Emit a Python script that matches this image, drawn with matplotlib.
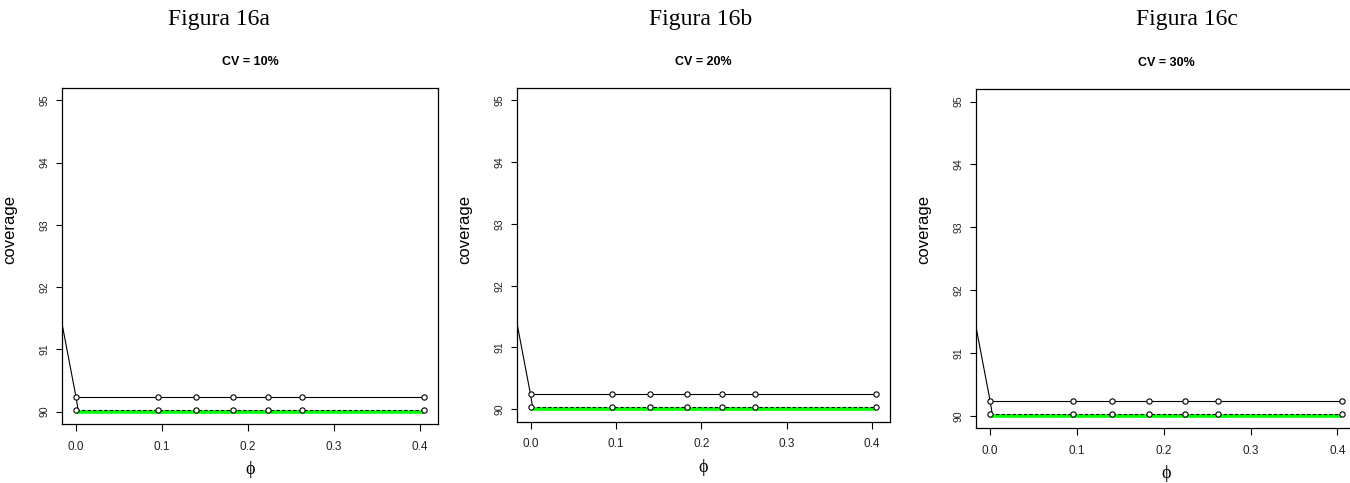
import matplotlib
matplotlib.use("Agg")
import matplotlib.pyplot as plt

# ---- data ----
panel_titles = ["Figura 16a", "Figura 16b", "Figura 16c"]
cv_labels = ["CV = 10%", "CV = 20%", "CV = 30%"]
phi = [0.0, 0.095, 0.140, 0.183, 0.224, 0.263, 0.405]
cov_upper = [90.24, 90.24, 90.24, 90.24, 90.24, 90.24, 90.24]
cov_lower = [90.03, 90.03, 90.03, 90.03, 90.03, 90.03, 90.03]
lead_phi = [-0.05, 0.0, 0.0025]
lead_cov = [93.87, 90.24, 90.03]
nominal_phi = [0.0, 0.405]
nominal_cov = [90.0, 90.0]
xticks = [0.0, 0.1, 0.2, 0.3, 0.4]
xticklabels = ["0.0", "0.1", "0.2", "0.3", "0.4"]
yticks = [90, 91, 92, 93, 94, 95]

W, H = 1350, 483
fig = plt.figure(figsize=(W / 100, H / 100), dpi=100)

# axes boxes in pixels: left, top, right, bottom
boxes = [(62, 88, 438, 424), (516.7, 87.7, 890, 421.7), (976, 89, 1355.8, 428.3)]
title_x = [219, 701, 1187]
phi_label_y = [470, 467, 474]

sans = ["Liberation Sans", "DejaVu Sans"]
serif = ["Liberation Serif", "DejaVu Serif"]

for i, (l, t, r, b) in enumerate(boxes):
    ax = fig.add_axes([l / W, (H - b) / H, (r - l) / W, (b - t) / H])
    ax.plot(nominal_phi, nominal_cov, color="#00ff00", lw=2.6, solid_capstyle="butt", zorder=1)
    ax.plot(phi, cov_lower, color="black", lw=0.8, ls=(0, (3, 2)), marker="o",
            mfc="white", mec="black", ms=3.8, mew=0.8, zorder=3)
    ax.plot(phi, cov_upper, color="black", lw=0.8, marker="o",
            mfc="white", mec="black", ms=3.8, mew=0.8, zorder=3)
    ax.plot(lead_phi, lead_cov, color="black", lw=0.8, zorder=2)
    ax.set_xlim(-0.0162, 0.4212)
    ax.set_ylim(89.8, 95.2)
    ax.set_xticks(xticks)
    ax.set_xticklabels(xticklabels, fontfamily=sans, fontsize=8.5, color="#222222")
    ax.set_yticks(yticks)
    ax.set_yticklabels([str(v) for v in yticks], fontfamily=sans, fontsize=7.5,
                       rotation=90, va="center", color="#222222")
    ax.tick_params(axis="x", direction="out", length=5, width=0.8, pad=7)
    ax.tick_params(axis="y", direction="out", length=4, width=0.8, pad=5)
    for s in ax.spines.values():
        s.set_linewidth(0.9)
        s.set_color("black")
    ax.set_ylabel("coverage", fontfamily=sans, fontsize=12)
    ax.yaxis.set_label_coords(-0.118, (b - 230) / (b - t))
    ax.text(0.5, (b - phi_label_y[i]) / (b - t), "ϕ", transform=ax.transAxes,
            ha="center", va="center", fontfamily=serif, fontsize=13)
    ax.text(0.5, 1 + 26 / (b - t), cv_labels[i], transform=ax.transAxes,
            ha="center", va="center", fontfamily=sans, fontsize=9, fontweight="bold")
    fig.text(title_x[i] / W, 1 - 19 / H, panel_titles[i], ha="center", va="center",
             fontfamily=serif, fontsize=17)

fig.savefig("out.png", dpi=100)
